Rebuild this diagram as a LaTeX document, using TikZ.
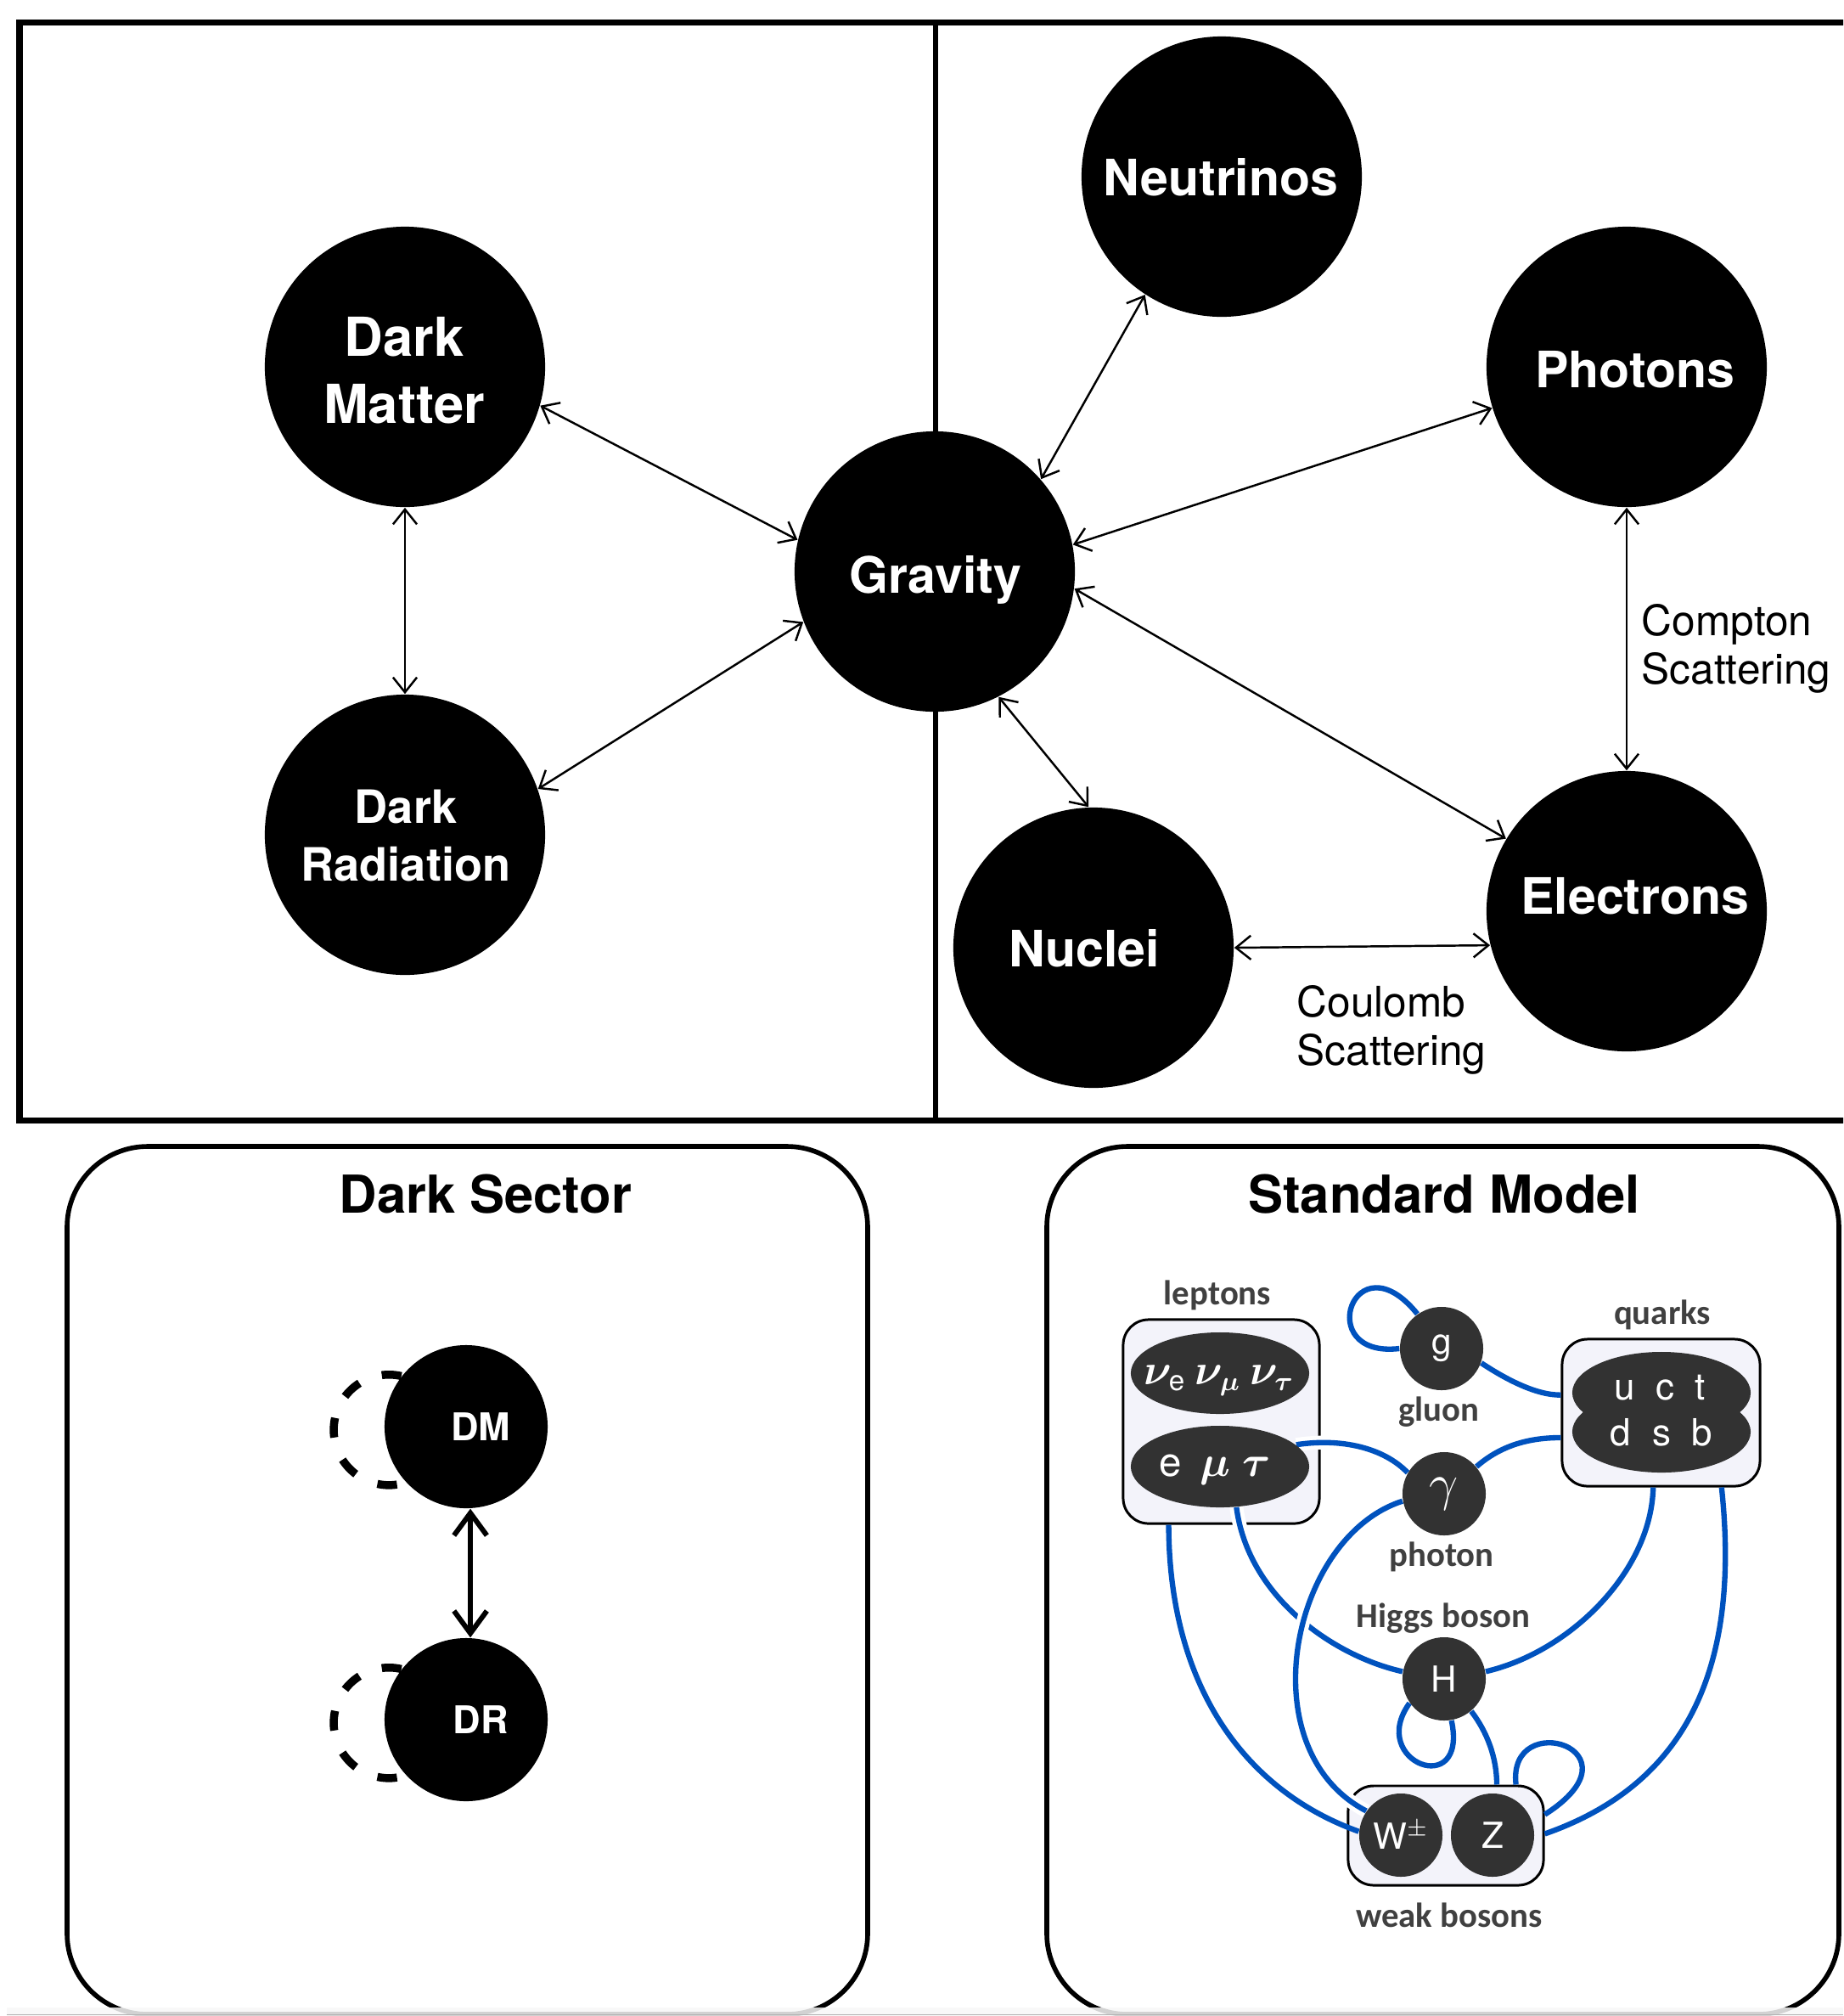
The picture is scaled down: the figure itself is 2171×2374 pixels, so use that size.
\documentclass[tikz,border=0pt]{standalone}
\usepackage{fontspec}
\usepackage{amsmath}
\setmainfont{TeX Gyre Heros}
\newfontfamily\carl{Carlito}
\usetikzlibrary{arrows.meta,shapes.geometric}
\definecolor{smblue}{RGB}{0,82,190}
\definecolor{smdark}{RGB}{50,50,50}
\definecolor{smfill}{RGB}{243,243,250}
\definecolor{smlabel}{RGB}{64,64,64}
\pgfdeclarelayer{bglayer}
\pgfdeclarelayer{boxlayer}
\pgfdeclarelayer{linelayer}
\pgfsetlayers{bglayer,boxlayer,linelayer,main}
\tikzset{
  bignode/.style={circle, fill=black, minimum size=3.3cm, inner sep=0pt},
  bigtext/.style={text=white, inner sep=0pt, align=center, font=\fontsize{16.8}{22}\selectfont\bfseries},
  grarrow/.style={line width=0.7pt, {Straight Barb[length=5pt,width=8pt]}-{Straight Barb[length=5pt,width=8pt]}},
  scatlabel/.style={anchor=west, inner sep=0pt, align=left, font=\fontsize{14.1}{16.2}\selectfont},
  panelbox/.style={draw=black, line width=1.6pt, rounded corners=0.95cm},
  paneltitle/.style={inner sep=0pt, font=\fontsize{17.5}{21}\selectfont\bfseries},
  dsnode/.style={circle, fill=black, minimum size=1.92cm, inner sep=0pt},
  dstext/.style={text=white, inner sep=0pt, font=\fontsize{12.8}{15}\selectfont\bfseries},
  dsarrow/.style={line width=1.7pt, {Straight Barb[length=7.5pt,width=11pt]}-{Straight Barb[length=7.5pt,width=11pt]}},
  dsloop/.style={line width=2.7pt, dash pattern=on 6.6pt off 8pt},
  smbox/.style={draw=black, line width=0.85pt, fill=smfill, rounded corners=0.3cm, inner sep=0pt},
  smell/.style={ellipse, fill=smdark, minimum width=2.1cm, minimum height=0.96cm, inner sep=0pt},
  smcirc/.style={circle, fill=smdark, minimum size=0.98cm, inner sep=0pt, text=white, font=\fontsize{12}{14}\selectfont},
  smtext/.style={text=white, inner sep=0pt, font=\fontsize{13.5}{15}\selectfont},
  smgreek/.style={text=white, inner sep=0pt, font=\fontsize{13.5}{15}\selectfont\boldmath},
  smlab/.style={text=smlabel, inner sep=0pt, font=\carl\bfseries\fontsize{11.6}{14}\selectfont},
  bline/.style={draw=smblue, line width=1.8pt},
  bcase/.style={draw=white, line width=4.6pt},
}
\begin{document}
\begin{tikzpicture}[x=0.01cm, y=-0.01cm]
\useasboundingbox (0,0) rectangle (2171,2374);
\clip (0,0) rectangle (2171,2374);
\begin{pgfonlayer}{bglayer}
\fill[white] (0,0) rectangle (2171,2374);
\end{pgfonlayer}

% ---------- top panel ----------
\draw[line width=2pt] (23,26) rectangle (2200,1319);
\draw[line width=1.7pt] (1102,26) -- (1102,1319);

\node[bignode] (dm)   at (477,432)   {};
\node[bignode] (dr)   at (477,983)   {};
\node[bignode] (grav) at (1101,673)  {};
\node[bignode] (neu)  at (1439,208)  {};
\node[bignode] (pho)  at (1916,432)  {};
\node[bignode] (ele)  at (1916,1073) {};
\node[bignode] (nuc)  at (1288,1116) {};

\node[bigtext, font=\fontsize{18}{22.5}\selectfont\bfseries] (dmtxt) at (476,436) {Dark\\Matter};
\node[bigtext, font=\fontsize{15.4}{19.6}\selectfont\bfseries] (drtxt) at (478,984) {Dark\\Radiation};
\node[bigtext, anchor=base] (gravtxt) at (1102,698) {Gravity};
\node[bigtext, anchor=base] (neutxt)  at (1438,230) {Neutrinos};
\node[bigtext, anchor=base] (photxt)  at (1926,456) {Photons};
\node[bigtext, anchor=base] (eletxt)  at (1926,1076) {Electrons};
\node[bigtext, anchor=base] (nuctxt)  at (1277,1138) {Nuclei};

\draw[grarrow] (dm.-16) -- (grav.167);
\draw[grarrow] (dr.19) -- (grav.201);
\draw[grarrow] (dm.south) -- (dr.north);
\draw[grarrow] (neu.237) -- (grav.41);
\draw[grarrow] (pho.197) -- (grav.11);
\draw[grarrow] (ele.149) -- (grav.-7);
\draw[grarrow] (grav.-63) -- (nuc.92);
\draw[grarrow] (pho.south) -- (ele.north);
\draw[grarrow] (nuc.0) -- (ele.194);

\node[scatlabel] (compton) at (1933,764) {Compton\\Scattering};
\node[scatlabel] (coulomb) at (1527,1213) {Coulomb\\Scattering};

% ---------- dark sector ----------
\draw[panelbox] (79,1350) rectangle (1022,2372);
\node[paneltitle] (dstitle) at (572,1406) {Dark Sector};
\node[dsnode] (dmc) at (549,1680) {};
\node[dsnode] (drc) at (549,2025) {};
\draw[dsloop] (dmc.142) arc[start angle=77, end angle=283, radius=0.65cm];
\draw[dsloop] (drc.142) arc[start angle=77, end angle=283, radius=0.65cm];
\node[dstext] (dmtext) at (566,1680) {DM};
\node[dstext] (drtext) at (566,2025) {DR};
\draw[dsarrow] (dmc.-87) -- (drc.87);

% ---------- standard model ----------
\draw[panelbox] (1233,1350) rectangle (2166,2372);
\node[paneltitle] (smtitle) at (1701,1406) {Standard Model};

\begin{pgfonlayer}{boxlayer}
\node[smbox, minimum width=2.31cm, minimum height=2.40cm] (lbox) at (1438.5,1674) {};
\node[smbox, minimum width=2.33cm, minimum height=1.73cm] (qbox) at (1956.5,1663.5) {};
\node[smbox, minimum width=2.30cm, minimum height=1.17cm] (wbox) at (1703,2161.5) {};
\end{pgfonlayer}

\node[smell] (nu)  at (1437,1617) {};
\node[smell] (emt) at (1437,1727) {};
\node[smell] (uct) at (1957,1640) {};
\node[smell] (dsb) at (1957,1686) {};
\node[smcirc] (g)   at (1698,1588) {g};
\node[smcirc, font=\fontsize{16}{18}\selectfont] (gam) at (1701,1759) {$\gamma$};
\node[smcirc] (H)   at (1701,1977) {H};
\node[smcirc] (W)   at (1650,2161) {W$^{\pm}$};
\node[smcirc] (Z)   at (1758,2161) {Z};

\node[smgreek, anchor=base] (nutext) at (1436,1630) {$\nu_{\text{e}}\hspace{3pt}\nu_{\mu}\hspace{3pt}\nu_{\tau}$};
\node[smgreek, anchor=base] (emttext) at (1431,1738) {e\hspace{6pt}$\mu$\hspace{4pt}$\tau$};
\node[smtext, anchor=base, font=\fontsize{12.5}{15}\selectfont] (ucttext) at (1955,1648) {u\hspace{7pt}c\hspace{7pt}t};
\node[smtext, anchor=base, font=\fontsize{12.5}{15}\selectfont] (dsbtext) at (1957,1702) {d\hspace{7pt}s\hspace{7pt}b};

\node[smlab] (leplab) at (1434,1525) {leptons};
\node[smlab] (qlab)   at (1958,1548) {quarks};
\node[smlab] (glab)   at (1695,1663) {gluon};
\node[smlab] (phlab)  at (1698,1833) {photon};
\node[smlab] (hlab)   at (1700,1906) {Higgs boson};
\node[smlab] (wlab)   at (1707,2255) {weak bosons};

\begin{pgfonlayer}{linelayer}
\draw[bline] (g.180) .. controls (1545,1600) and (1595,1455) .. (g.125);
\draw[bline] (g.-20) .. controls (1775,1625) and (1810,1643) .. (qbox.170);
\draw[bline] (gam.40) .. controls (1770,1700) and (1805,1693) .. (qbox.194);
\draw[bline] (lbox.243.6) .. controls (1377,1990) and (1470,2110) .. (W.175);
\draw[bline] (H.10) .. controls (1850,1945) and (1945,1850) .. (qbox.264);
\draw[bline] (H.215) .. controls (1610,2075) and (1730,2120) .. (H.-80);
\draw[bline] (H.-50) .. controls (1752,2040) and (1763,2070) .. (wbox.45);
\draw[bline] (wbox.36.5) .. controls (1775,2010) and (1940,2060) .. (wbox.12.5);
\draw[bline] (qbox.-51.6) .. controls (2050,1960) and (1990,2100) .. (wbox.1);
\draw[bcase] (emt.-68) .. controls (1470,1880) and (1570,1950) .. (H.170);
\draw[bline] (emt.-68) .. controls (1470,1880) and (1570,1950) .. (H.170);
\draw[bcase] (emt.16) .. controls (1580,1693) and (1630,1705) .. (gam.150);
\draw[bline] (emt.16) .. controls (1580,1693) and (1630,1705) .. (gam.150);
\draw[bcase] (gam.190) .. controls (1520,1810) and (1470,2060) .. (W.145);
\draw[bline] (gam.190) .. controls (1520,1810) and (1470,2060) .. (W.145);
\end{pgfonlayer}

% faint strip at the bottom edge
\fill[black!3, fill opacity=0.85] (8,2364) rectangle (2171,2374);
\draw[black!30, line width=0.5pt] (8,2372.5) -- (2171,2372.5);
\end{tikzpicture}
\end{document}
